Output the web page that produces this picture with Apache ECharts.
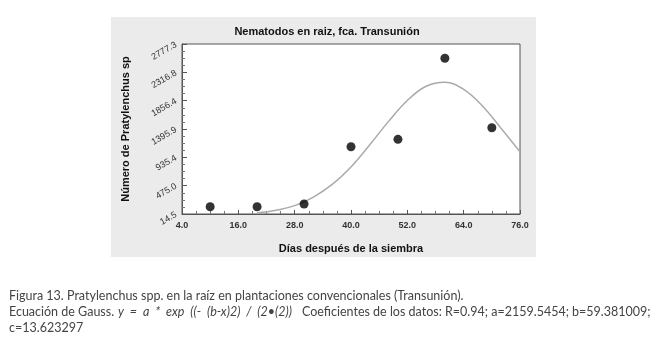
<!DOCTYPE html>
<html>
<head>
<meta charset="utf-8">
<script src="https://cdn.jsdelivr.net/npm/echarts@6/dist/echarts.min.js"></script>
<style>
  html, body { margin: 0; padding: 0; background: #fff; }
  #chart { width: 661px; height: 345px; }
</style>
</head>
<body>
<div id="chart"></div>
<script>
// datos observados (días, número de Pratylenchus)
const dias = [10, 20, 30, 40, 50, 60, 70];
const nematodos = [133, 133, 177, 1108, 1228, 2545, 1417];

// curva de Gauss ajustada
const curvaX = [20, 24, 28, 32, 36, 40, 44, 48, 52, 56, 60, 64, 68, 72, 76];
const curvaY = [30, 75, 150, 290, 495, 780, 1140, 1520, 1860, 2090, 2155, 2040, 1770, 1405, 1025];

const yMin = 14.5;
const yMax = 2777.3;

const chart = echarts.init(document.getElementById('chart'));
const fuente = 'Liberation Sans';
const fuenteCap = 'Lato';
const capSize = '12.5px ';

chart.setOption({
  backgroundColor: '#fff',
  animation: false,
  title: {
    text: 'Nematodos en raiz, fca. Transunión',
    left: 322,
    textAlign: 'center',
    top: 21,
    textStyle: { fontFamily: fuente, fontSize: 11, fontWeight: 'bold', color: '#111' }
  },
  graphic: [
    {
      type: 'rect', z: -10,
      shape: { x: 111, y: 17, width: 425, height: 240 },
      style: { fill: '#ebebeb' }
    },
    {
      type: 'text', left: 9, top: 289,
      style: {
        text: 'Figura 13. Pratylenchus spp. en la raíz en plantaciones convencionales (Transunión).',
        font: capSize + fuenteCap, fill: '#444'
      }
    },
    {
      type: 'text', left: 9, top: 305,
      style: { text: 'Ecuación de Gauss.', font: capSize + fuenteCap, fill: '#444' }
    },
    {
      type: 'text', left: 118, top: 305,
      style: { text: 'y  =  a  *  exp  ((-  (b-x)2)  /  (2•(2))', font: 'italic ' + capSize + fuenteCap, fill: '#444' }
    },
    {
      type: 'text', left: 302, top: 305,
      style: {
        text: 'Coeficientes de los datos: R=0.94; a=2159.5454; b=59.381009;',
        font: capSize + fuenteCap, fill: '#444'
      }
    },
    {
      type: 'text', left: 9, top: 321,
      style: { text: 'c=13.623297', font: capSize + fuenteCap, fill: '#444' }
    }
  ],
  grid: {
    left: 182, top: 44, width: 338, height: 170,
    show: true, backgroundColor: '#fff', borderColor: '#555', borderWidth: 1
  },
  xAxis: {
    type: 'value',
    min: 4, max: 76, interval: 12,
    name: 'Días después de la siembra',
    nameLocation: 'middle',
    nameGap: 29,
    nameTextStyle: { fontFamily: fuente, fontSize: 11, fontWeight: 'bold', color: '#111' },
    axisLine: { lineStyle: { color: '#555' } },
    axisTick: { inside: true, length: 4, lineStyle: { color: '#555' } },
    minorTick: { show: true, splitNumber: 4, length: 3, lineStyle: { color: '#777' } },
    splitLine: { show: false },
    axisLabel: {
      fontFamily: fuente, fontSize: 9, fontWeight: 'bold', color: '#333', margin: 7,
      formatter: v => v.toFixed(1)
    }
  },
  yAxis: {
    type: 'value',
    min: yMin, max: yMax, interval: (yMax - yMin) / 6,
    name: 'Número de Pratylenchus sp',
    nameLocation: 'middle',
    nameGap: 51,
    nameTextStyle: { fontFamily: fuente, fontSize: 11, fontWeight: 'bold', color: '#111' },
    axisLine: { lineStyle: { color: '#555' } },
    axisTick: { inside: true, length: 5, lineStyle: { color: '#555' } },
    minorTick: { show: true, splitNumber: 4, length: 3, lineStyle: { color: '#777' } },
    splitLine: { show: false },
    axisLabel: {
      fontFamily: fuente, fontSize: 9, color: '#333', rotate: 30, margin: 6,
      formatter: v => v.toFixed(1)
    }
  },
  series: [
    {
      type: 'line',
      data: curvaX.map((x, i) => [x, curvaY[i]]),
      smooth: 0.4,
      showSymbol: false,
      clip: true,
      lineStyle: { color: '#aaa', width: 1.5 },
      z: 2
    },
    {
      type: 'scatter',
      data: dias.map((x, i) => [x, nematodos[i]]),
      symbolSize: 9,
      itemStyle: { color: '#000' },
      z: 3
    }
  ]
});
</script>
</body>
</html>
